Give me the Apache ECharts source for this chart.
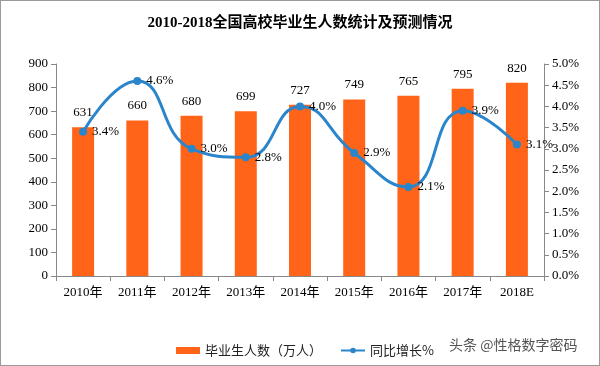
<!DOCTYPE html>
<html><head><meta charset="utf-8">
<script src="https://cdn.jsdelivr.net/npm/echarts@6/dist/echarts.min.js"></script>
<style>html,body{margin:0;padding:0;background:#fff}#c{width:600px;height:366px;box-sizing:border-box;border:1px solid #9a9a9a}</style>
</head><body><div id="c"></div>
<script>
var categories = ['2010年','2011年','2012年','2013年','2014年','2015年','2016年','2017年','2018E'];
var graduates = [631,660,680,699,727,749,765,795,820];
var growth = [3.4,4.6,3.0,2.8,4.0,2.9,2.1,3.9,3.1];
var leftTicks = [0,900,100];
var rightTicks = [0,5,0.5];
var FONT = '"Liberation Serif","DejaVu Serif","Noto Sans CJK SC",serif';
var chart = echarts.init(document.getElementById('c'));
chart.setOption({
  animation:false,
  title:{text:'2010-2018全国高校毕业生人数统计及预测情况',left:'center',top:10,
    textStyle:{fontFamily:'"Liberation Serif","Noto Sans CJK SC",serif',fontSize:15,fontWeight:'bold',color:'#000'}},
  grid:{left:55,right:55,top:63,bottom:89},
  legend:{top:338,left:170,itemGap:18,itemWidth:24,itemHeight:7,
    textStyle:{fontFamily:'"Noto Sans CJK SC",sans-serif',fontSize:13,color:'#222'},
    data:[{name:'毕业生人数（万人）',icon:'rect'},{name:'同比增长%'}]},
  graphic:[{type:'text',left:448,top:337,style:{text:'头条 @性格数字密码',fill:'#555',font:'14px "Noto Sans CJK SC",sans-serif'}}],
  xAxis:{type:'category',data:categories,
    axisLine:{lineStyle:{color:'#888'}},axisTick:{show:true,lineStyle:{color:'#888'}},
    axisLabel:{color:'#000',fontFamily:FONT,fontSize:13,margin:10}},
  yAxis:[
    {type:'value',min:leftTicks[0],max:leftTicks[1],interval:leftTicks[2],
      axisLine:{show:true,lineStyle:{color:'#888'}},axisTick:{show:true,lineStyle:{color:'#888'}},
      splitLine:{show:false},axisLabel:{color:'#000',fontFamily:FONT,fontSize:13}},
    {type:'value',min:rightTicks[0],max:rightTicks[1],interval:rightTicks[2],
      axisLine:{show:true,lineStyle:{color:'#888'}},axisTick:{show:true,lineStyle:{color:'#888'}},
      splitLine:{show:false},axisLabel:{color:'#000',fontFamily:FONT,fontSize:13,
        formatter:function(v){return v.toFixed(1)+'%';}}}
  ],
  series:[
    {name:'毕业生人数（万人）',type:'bar',data:graduates,barWidth:22,
      itemStyle:{color:'#FF6418'},
      label:{show:true,position:'top',distance:8,color:'#000',fontFamily:FONT,fontSize:13}},
    {name:'同比增长%',type:'line',yAxisIndex:1,data:growth,smooth:0.5,
      symbol:'circle',symbolSize:8,
      lineStyle:{color:'#2A85CB',width:3},itemStyle:{color:'#2A85CB'},
      label:{show:true,position:'right',distance:5,color:'#000',fontFamily:FONT,fontSize:13,
        formatter:function(p){return p.value.toFixed(1)+'%';}}}
  ]
});
</script></body></html>
